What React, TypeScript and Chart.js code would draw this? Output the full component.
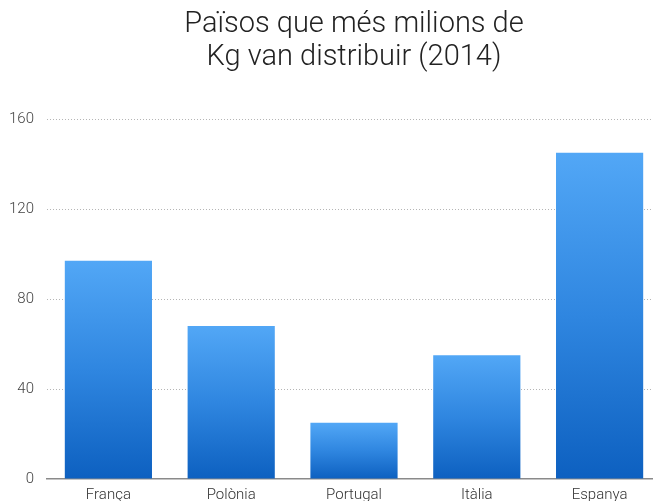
import React, { useEffect, useRef } from "react";
import { Chart, registerables } from "chart.js";

Chart.register(...registerables);

const categories = ["França", "Polònia", "Portugal", "Itàlia", "Espanya"];
const values = [97, 68, 25, 55, 145];
const titleLines = ["Països que més milions de", "Kg van distribuir (2014)"];
const yMin = 0;
const yMax = 160;
const yStep = 40;

export default function App() {
  const ref = useRef<HTMLCanvasElement | null>(null);

  useEffect(() => {
    document.body.style.overflow = "hidden";
    const canvas = ref.current;
    if (!canvas) return;
    const chart = new Chart(canvas, {
      type: "bar",
      data: {
        labels: categories,
        datasets: [
          {
            data: values,
            categoryPercentage: 0.71,
            barPercentage: 1,
            borderWidth: 0,
            backgroundColor: (ctx: any) => {
              const c = ctx.chart;
              const ys = c.scales && c.scales.y;
              if (!ys || ctx.raw == null) return "#2f86e0";
              const top = ys.getPixelForValue(ctx.raw);
              const bottom = ys.getPixelForValue(0);
              if (!isFinite(top) || !isFinite(bottom) || top === bottom) return "#2f86e0";
              const g = c.ctx.createLinearGradient(0, top, 0, bottom);
              g.addColorStop(0, "#52a7f6");
              g.addColorStop(0.5, "#2f86e0");
              g.addColorStop(1, "#0d60c0");
              return g;
            },
          },
        ],
      },
      options: {
        animation: false,
        responsive: false,
        maintainAspectRatio: false,
        layout: { padding: 0 },
        plugins: {
          legend: { display: false },
          tooltip: { enabled: false },
          title: {
            display: true,
            text: titleLines,
            fullSize: false,
            color: "#222222",
            font: { family: "Roboto", size: 29, weight: "300", lineHeight: 1.14 },
            padding: { top: 8, bottom: 45 },
          },
        },
        scales: {
          x: {
            grid: { display: false },
            border: { display: true, color: "#8a8a8a", width: 1.5 },
            ticks: {
              color: "#333333",
              font: { family: "Roboto", size: 15, weight: "300" },
              padding: -1,
              maxRotation: 0,
            },
          },
          y: {
            min: yMin,
            max: yMax,
            afterFit: (s: any) => {
              s.width = 47;
            },
            ticks: {
              stepSize: yStep,
              color: "#444444",
              font: { family: "Roboto", size: 15, weight: "300" },
              padding: 13,
            },
            grid: {
              drawTicks: false,
              color: (ctx: any) => (ctx.tick && ctx.tick.value === 0 ? "rgba(0,0,0,0)" : "#b5b5b5"),
              lineWidth: 1,
            },
            border: { display: false, dash: [1, 2] },
          },
        },
      },
    });
    return () => chart.destroy();
  }, []);

  return (
    <div style={{ position: "absolute", left: 0, top: 0, width: 661, height: 503 }}>
      <canvas ref={ref} width={661} height={503} style={{ display: "block" }} />
    </div>
  );
}
